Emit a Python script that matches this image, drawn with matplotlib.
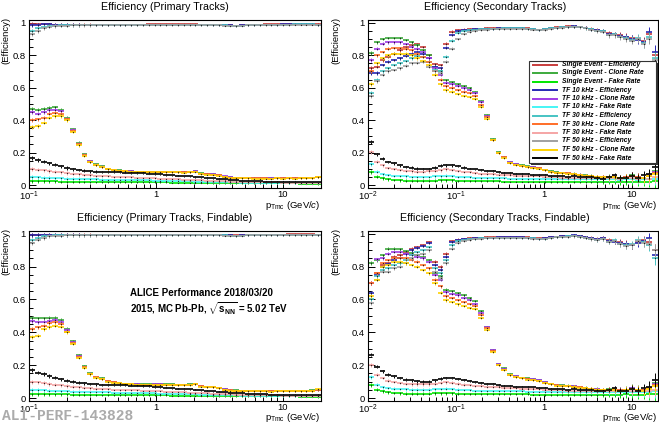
import numpy as np
import matplotlib
matplotlib.use("Agg")
import matplotlib.pyplot as plt
from matplotlib.patches import Rectangle
from matplotlib.lines import Line2D
from matplotlib.ticker import FixedLocator, FixedFormatter, MultipleLocator, LogLocator, NullFormatter

plt.rcParams['font.family'] = ['Liberation Sans', 'DejaVu Sans']
plt.rcParams['mathtext.fontset'] = 'custom'
plt.rcParams['mathtext.rm'] = 'Liberation Sans'
plt.rcParams['mathtext.it'] = 'Liberation Sans:italic'
plt.rcParams['mathtext.bf'] = 'Liberation Sans:bold'

W, H = 659, 424

# ---- legend entries (drawing order) ----
labels = ["Single Event - Efficiency", "Single Event - Clone Rate", "Single Event - Fake Rate",
          "TF 10 kHz - Efficiency", "TF 10 kHz - Clone Rate", "TF 10 kHz - Fake Rate",
          "TF 30 kHz - Efficiency", "TF 30 kHz - Clone Rate", "TF 30 kHz - Fake Rate",
          "TF 50 kHz - Efficiency", "TF 50 kHz - Clone Rate", "TF 50 kHz - Fake Rate"]
colors = ["#c83c3c", "#3caa3c", "#00e600",
          "#2828b4", "#a03ce6", "#46f5f5",
          "#46c3c3", "#ff6e28", "#f5a5a5",
          "#a0a0a0", "#ffd200", "#000000"]

# ---- binning (log bins, 50 per histogram) ----
prim_edges = np.logspace(-1, np.log10(20), 51)
sec_edges = np.logspace(-2, np.log10(20), 51)

# ---- primary tracks ----
p_eff_se = [0.99, 0.99, 0.99, 0.99, 0.989, 0.988, 0.988, 0.988, 0.988, 0.988, 0.988, 0.988, 0.988, 0.988, 0.989, 0.989, 0.989, 0.989, 0.989, 0.989, 0.99, 0.99, 0.99, 0.99, 0.99, 0.99, 0.99, 0.99, 0.99, 0.989, 0.989, 0.988, 0.988, 0.987, 0.985, 0.982, 0.985, 0.987, 0.988, 0.989, 0.99, 0.99, 0.99, 0.99, 0.991, 0.991, 0.992, 0.992, 0.992, 0.99]
p_eff_tf10 = [0.985, 0.988, 0.99, 0.99, 0.989, 0.988, 0.988, 0.987, 0.987, 0.987, 0.987, 0.987, 0.987, 0.988, 0.988, 0.988, 0.988, 0.988, 0.988, 0.989, 0.989, 0.989, 0.989, 0.989, 0.989, 0.989, 0.989, 0.989, 0.989, 0.988, 0.988, 0.987, 0.987, 0.986, 0.984, 0.981, 0.984, 0.986, 0.987, 0.988, 0.989, 0.989, 0.989, 0.99, 0.99, 0.99, 0.991, 0.991, 0.991, 0.989]
p_eff_tf30 = [0.95, 0.965, 0.975, 0.98, 0.983, 0.984, 0.985, 0.985, 0.985, 0.985, 0.985, 0.985, 0.986, 0.986, 0.986, 0.986, 0.987, 0.987, 0.987, 0.987, 0.988, 0.988, 0.988, 0.988, 0.988, 0.988, 0.988, 0.988, 0.987, 0.987, 0.986, 0.986, 0.985, 0.984, 0.982, 0.979, 0.982, 0.985, 0.986, 0.987, 0.988, 0.988, 0.988, 0.989, 0.989, 0.99, 0.99, 0.99, 0.99, 0.988]
p_eff_tf50 = [0.93, 0.95, 0.965, 0.975, 0.98, 0.982, 0.983, 0.984, 0.984, 0.984, 0.984, 0.984, 0.985, 0.985, 0.985, 0.985, 0.986, 0.986, 0.986, 0.986, 0.987, 0.987, 0.987, 0.987, 0.987, 0.987, 0.987, 0.987, 0.986, 0.986, 0.985, 0.985, 0.984, 0.983, 0.981, 0.978, 0.981, 0.984, 0.985, 0.986, 0.987, 0.987, 0.987, 0.988, 0.988, 0.989, 0.989, 0.989, 0.989, 0.987]
p_clone_se = [0.47, 0.465, 0.47, 0.475, 0.478, 0.465, 0.415, 0.345, 0.26, 0.19, 0.148, 0.127, 0.115, 0.102, 0.095, 0.09, 0.087, 0.085, 0.083, 0.082, 0.082, 0.083, 0.083, 0.082, 0.082, 0.081, 0.08, 0.082, 0.085, 0.072, 0.067, 0.066, 0.062, 0.052, 0.048, 0.046, 0.044, 0.043, 0.043, 0.042, 0.043, 0.042, 0.043, 0.042, 0.044, 0.043, 0.044, 0.045, 0.046, 0.052]
p_clone_tf10 = [0.45, 0.44, 0.45, 0.46, 0.465, 0.455, 0.41, 0.34, 0.255, 0.188, 0.146, 0.126, 0.114, 0.1, 0.094, 0.089, 0.086, 0.084, 0.082, 0.081, 0.081, 0.082, 0.082, 0.081, 0.081, 0.08, 0.079, 0.081, 0.084, 0.071, 0.068, 0.067, 0.063, 0.053, 0.047, 0.045, 0.043, 0.043, 0.042, 0.042, 0.042, 0.041, 0.043, 0.042, 0.043, 0.042, 0.043, 0.044, 0.045, 0.05]
p_clone_tf30 = [0.40, 0.405, 0.415, 0.44, 0.445, 0.44, 0.405, 0.335, 0.25, 0.185, 0.144, 0.125, 0.113, 0.099, 0.093, 0.088, 0.085, 0.083, 0.081, 0.08, 0.08, 0.081, 0.081, 0.08, 0.08, 0.079, 0.078, 0.08, 0.083, 0.07, 0.066, 0.065, 0.06, 0.051, 0.046, 0.044, 0.042, 0.042, 0.041, 0.041, 0.041, 0.04, 0.042, 0.041, 0.042, 0.041, 0.042, 0.043, 0.044, 0.05]
p_clone_tf50 = [0.36, 0.365, 0.385, 0.415, 0.425, 0.425, 0.398, 0.33, 0.245, 0.182, 0.142, 0.123, 0.111, 0.098, 0.092, 0.087, 0.084, 0.082, 0.08, 0.079, 0.079, 0.08, 0.08, 0.079, 0.079, 0.078, 0.077, 0.079, 0.082, 0.069, 0.065, 0.064, 0.059, 0.05, 0.045, 0.043, 0.041, 0.041, 0.04, 0.04, 0.04, 0.039, 0.041, 0.04, 0.041, 0.04, 0.041, 0.042, 0.043, 0.052]
p_fake_se = [0.025, 0.024, 0.024, 0.023, 0.023, 0.022, 0.022, 0.021, 0.021, 0.02, 0.02, 0.02, 0.019, 0.019, 0.019, 0.018, 0.018, 0.018, 0.017, 0.017, 0.017, 0.016, 0.016, 0.016, 0.015, 0.015, 0.015, 0.014, 0.014, 0.014, 0.013, 0.013, 0.013, 0.012, 0.012, 0.012, 0.011, 0.011, 0.011, 0.011, 0.01, 0.01, 0.01, 0.01, 0.01, 0.01, 0.009, 0.009, 0.009, 0.009]
p_fake_tf10 = [0.05, 0.048, 0.046, 0.044, 0.042, 0.041, 0.04, 0.039, 0.038, 0.037, 0.036, 0.035, 0.034, 0.034, 0.033, 0.032, 0.032, 0.031, 0.03, 0.03, 0.029, 0.028, 0.027, 0.027, 0.026, 0.025, 0.024, 0.023, 0.022, 0.021, 0.02, 0.019, 0.018, 0.017, 0.016, 0.016, 0.015, 0.014, 0.014, 0.013, 0.013, 0.013, 0.012, 0.012, 0.012, 0.012, 0.011, 0.011, 0.011, 0.011]
p_fake_tf30 = [0.10, 0.095, 0.09, 0.086, 0.082, 0.078, 0.074, 0.07, 0.066, 0.063, 0.06, 0.058, 0.056, 0.054, 0.052, 0.05, 0.049, 0.047, 0.046, 0.045, 0.043, 0.042, 0.04, 0.038, 0.037, 0.035, 0.034, 0.032, 0.031, 0.029, 0.028, 0.026, 0.025, 0.024, 0.022, 0.021, 0.02, 0.019, 0.018, 0.017, 0.017, 0.016, 0.016, 0.015, 0.015, 0.015, 0.014, 0.014, 0.014, 0.014]
p_fake_tf50 = [0.168, 0.155, 0.145, 0.135, 0.125, 0.115, 0.105, 0.098, 0.093, 0.089, 0.085, 0.083, 0.081, 0.08, 0.079, 0.078, 0.077, 0.076, 0.075, 0.073, 0.071, 0.068, 0.066, 0.063, 0.06, 0.058, 0.055, 0.053, 0.05, 0.047, 0.044, 0.041, 0.038, 0.035, 0.032, 0.03, 0.028, 0.026, 0.024, 0.023, 0.022, 0.021, 0.02, 0.019, 0.018, 0.018, 0.017, 0.017, 0.016, 0.016]
prim_err = [0.012, 0.011, 0.011, 0.01, 0.01, 0.01, 0.01, 0.009, 0.009, 0.008, 0.008, 0.007, 0.007, 0.006, 0.006, 0.005, 0.005, 0.005, 0.004, 0.004, 0.004, 0.004, 0.004, 0.004, 0.004, 0.004, 0.004, 0.004, 0.004, 0.004, 0.004, 0.004, 0.004, 0.004, 0.004, 0.004, 0.004, 0.004, 0.004, 0.004, 0.004, 0.004, 0.005, 0.005, 0.005, 0.005, 0.005, 0.005, 0.005, 0.006]

# ---- primary tracks, findable ----
fp_eff_se = [0.995, 0.995, 0.995, 0.995, 0.995, 0.994, 0.994, 0.994, 0.994, 0.994, 0.994, 0.994, 0.994, 0.994, 0.994, 0.994, 0.995, 0.995, 0.995, 0.995, 0.995, 0.995, 0.995, 0.995, 0.995, 0.995, 0.995, 0.995, 0.995, 0.995, 0.994, 0.994, 0.994, 0.993, 0.992, 0.99, 0.992, 0.993, 0.994, 0.994, 0.995, 0.995, 0.995, 0.995, 0.996, 0.996, 0.996, 0.996, 0.996, 0.995]
fp_eff_tf10 = [0.99, 0.993, 0.994, 0.994, 0.994, 0.993, 0.993, 0.993, 0.993, 0.993, 0.993, 0.993, 0.993, 0.993, 0.993, 0.993, 0.994, 0.994, 0.994, 0.994, 0.994, 0.994, 0.994, 0.994, 0.994, 0.994, 0.994, 0.994, 0.994, 0.994, 0.993, 0.993, 0.993, 0.992, 0.991, 0.989, 0.991, 0.992, 0.993, 0.993, 0.994, 0.994, 0.994, 0.994, 0.995, 0.995, 0.995, 0.995, 0.995, 0.994]
fp_eff_tf30 = [0.965, 0.975, 0.985, 0.988, 0.99, 0.991, 0.991, 0.991, 0.991, 0.991, 0.991, 0.991, 0.992, 0.992, 0.992, 0.992, 0.992, 0.992, 0.993, 0.993, 0.993, 0.993, 0.993, 0.993, 0.993, 0.993, 0.993, 0.993, 0.993, 0.992, 0.992, 0.992, 0.991, 0.99, 0.989, 0.987, 0.989, 0.991, 0.992, 0.992, 0.993, 0.993, 0.993, 0.993, 0.994, 0.994, 0.994, 0.994, 0.994, 0.993]
fp_eff_tf50 = [0.945, 0.965, 0.975, 0.985, 0.988, 0.989, 0.99, 0.99, 0.99, 0.99, 0.99, 0.99, 0.991, 0.991, 0.991, 0.991, 0.991, 0.991, 0.992, 0.992, 0.992, 0.992, 0.992, 0.992, 0.992, 0.992, 0.992, 0.992, 0.992, 0.991, 0.991, 0.991, 0.99, 0.989, 0.988, 0.986, 0.988, 0.99, 0.991, 0.991, 0.992, 0.992, 0.992, 0.992, 0.993, 0.993, 0.993, 0.993, 0.993, 0.992]
fp_clone_se = [0.49, 0.485, 0.485, 0.49, 0.49, 0.475, 0.42, 0.345, 0.26, 0.195, 0.15, 0.13, 0.12, 0.105, 0.097, 0.092, 0.088, 0.086, 0.084, 0.083, 0.083, 0.084, 0.084, 0.083, 0.083, 0.082, 0.081, 0.083, 0.086, 0.073, 0.068, 0.067, 0.062, 0.053, 0.048, 0.046, 0.045, 0.044, 0.043, 0.043, 0.043, 0.042, 0.043, 0.042, 0.044, 0.043, 0.044, 0.045, 0.046, 0.052]
fp_clone_tf10 = [0.47, 0.46, 0.465, 0.47, 0.475, 0.465, 0.415, 0.34, 0.255, 0.19, 0.148, 0.128, 0.118, 0.103, 0.096, 0.091, 0.087, 0.085, 0.083, 0.082, 0.082, 0.083, 0.083, 0.082, 0.082, 0.081, 0.08, 0.082, 0.085, 0.072, 0.069, 0.068, 0.063, 0.054, 0.047, 0.045, 0.044, 0.043, 0.042, 0.042, 0.042, 0.041, 0.043, 0.042, 0.043, 0.042, 0.043, 0.044, 0.045, 0.05]
fp_clone_tf30 = [0.42, 0.43, 0.44, 0.455, 0.46, 0.45, 0.405, 0.335, 0.25, 0.19, 0.146, 0.127, 0.116, 0.101, 0.095, 0.09, 0.086, 0.084, 0.082, 0.081, 0.081, 0.082, 0.082, 0.081, 0.081, 0.08, 0.079, 0.081, 0.084, 0.071, 0.067, 0.066, 0.061, 0.052, 0.046, 0.044, 0.043, 0.042, 0.041, 0.041, 0.041, 0.04, 0.042, 0.041, 0.042, 0.041, 0.042, 0.043, 0.044, 0.05]
fp_clone_tf50 = [0.37, 0.38, 0.42, 0.43, 0.44, 0.435, 0.4, 0.33, 0.245, 0.185, 0.144, 0.125, 0.114, 0.1, 0.094, 0.089, 0.085, 0.083, 0.081, 0.08, 0.08, 0.081, 0.081, 0.08, 0.08, 0.079, 0.078, 0.08, 0.083, 0.07, 0.066, 0.065, 0.06, 0.051, 0.045, 0.043, 0.042, 0.041, 0.04, 0.04, 0.04, 0.039, 0.041, 0.04, 0.041, 0.04, 0.041, 0.042, 0.043, 0.053]

# ---- secondary tracks ----
s_eff_se = [0.72, 0.73, 0.77, 0.79, 0.81, 0.83, 0.85, 0.86, 0.87, 0.85, 0.80, 0.745, 0.74, 0.87, 0.945, 0.955, 0.958, 0.96, 0.962, 0.964, 0.965, 0.966, 0.967, 0.967, 0.968, 0.968, 0.967, 0.965, 0.962, 0.958, 0.962, 0.968, 0.972, 0.975, 0.977, 0.978, 0.975, 0.97, 0.962, 0.955, 0.952, 0.935, 0.93, 0.925, 0.915, 0.905, 0.9, 0.885, 0.93, 0.80]
s_eff_tf10 = [0.69, 0.69, 0.74, 0.76, 0.77, 0.78, 0.795, 0.81, 0.82, 0.81, 0.78, 0.73, 0.72, 0.847, 0.925, 0.948, 0.955, 0.958, 0.96, 0.962, 0.963, 0.964, 0.965, 0.966, 0.966, 0.967, 0.966, 0.964, 0.961, 0.957, 0.96, 0.966, 0.97, 0.973, 0.975, 0.977, 0.974, 0.968, 0.96, 0.953, 0.95, 0.932, 0.928, 0.92, 0.91, 0.9, 0.895, 0.88, 0.94, 0.82]
s_eff_tf30 = [0.57, 0.65, 0.70, 0.72, 0.74, 0.75, 0.765, 0.78, 0.795, 0.79, 0.76, 0.71, 0.70, 0.79, 0.89, 0.935, 0.948, 0.955, 0.958, 0.96, 0.962, 0.963, 0.964, 0.965, 0.965, 0.966, 0.965, 0.963, 0.96, 0.956, 0.959, 0.965, 0.969, 0.972, 0.974, 0.976, 0.973, 0.967, 0.959, 0.952, 0.948, 0.925, 0.93, 0.915, 0.905, 0.895, 0.905, 0.875, 0.91, 0.78]
s_eff_tf50 = [0.55, 0.64, 0.68, 0.70, 0.71, 0.72, 0.735, 0.75, 0.755, 0.76, 0.73, 0.70, 0.69, 0.76, 0.84, 0.90, 0.93, 0.945, 0.952, 0.956, 0.958, 0.96, 0.962, 0.963, 0.963, 0.964, 0.963, 0.961, 0.958, 0.954, 0.957, 0.963, 0.967, 0.97, 0.972, 0.974, 0.971, 0.965, 0.957, 0.95, 0.946, 0.922, 0.925, 0.912, 0.9, 0.89, 0.9, 0.87, 0.9, 0.77]
s_clone_se = [0.815, 0.88, 0.90, 0.905, 0.905, 0.905, 0.895, 0.88, 0.86, 0.83, 0.80, 0.73, 0.70, 0.645, 0.635, 0.62, 0.61, 0.60, 0.575, 0.52, 0.43, 0.285, 0.205, 0.175, 0.142, 0.13, 0.122, 0.115, 0.112, 0.108, 0.095, 0.085, 0.078, 0.075, 0.074, 0.07, 0.065, 0.06, 0.056, 0.052, 0.05, 0.052, 0.055, 0.046, 0.05, 0.06, 0.05, 0.046, 0.062, 0.085]
s_clone_tf10 = [0.77, 0.84, 0.87, 0.88, 0.88, 0.88, 0.87, 0.85, 0.84, 0.82, 0.78, 0.72, 0.68, 0.63, 0.62, 0.61, 0.595, 0.585, 0.565, 0.51, 0.425, 0.28, 0.2, 0.172, 0.14, 0.128, 0.12, 0.113, 0.11, 0.106, 0.093, 0.083, 0.076, 0.074, 0.073, 0.069, 0.064, 0.059, 0.055, 0.051, 0.049, 0.05, 0.053, 0.045, 0.048, 0.058, 0.048, 0.045, 0.06, 0.08]
s_clone_tf30 = [0.70, 0.80, 0.82, 0.84, 0.845, 0.845, 0.84, 0.83, 0.81, 0.79, 0.76, 0.70, 0.65, 0.61, 0.60, 0.585, 0.575, 0.565, 0.55, 0.495, 0.42, 0.278, 0.198, 0.17, 0.138, 0.126, 0.118, 0.111, 0.108, 0.104, 0.091, 0.082, 0.075, 0.073, 0.072, 0.068, 0.063, 0.058, 0.054, 0.05, 0.048, 0.049, 0.052, 0.044, 0.047, 0.056, 0.047, 0.044, 0.058, 0.075]
s_clone_tf50 = [0.62, 0.75, 0.78, 0.80, 0.81, 0.81, 0.81, 0.80, 0.78, 0.765, 0.74, 0.68, 0.62, 0.585, 0.575, 0.56, 0.55, 0.54, 0.53, 0.48, 0.41, 0.275, 0.196, 0.168, 0.136, 0.124, 0.116, 0.109, 0.106, 0.102, 0.09, 0.081, 0.074, 0.072, 0.071, 0.067, 0.062, 0.057, 0.053, 0.049, 0.047, 0.048, 0.05, 0.043, 0.046, 0.055, 0.046, 0.043, 0.056, 0.07]
s_fake_se = [0.082, 0.051, 0.041, 0.035, 0.031, 0.029, 0.027, 0.027, 0.027, 0.027, 0.027, 0.028, 0.029, 0.029, 0.029, 0.027, 0.026, 0.025, 0.025, 0.024, 0.024, 0.023, 0.023, 0.022, 0.022, 0.022, 0.022, 0.022, 0.021, 0.021, 0.021, 0.021, 0.021, 0.021, 0.021, 0.02, 0.02, 0.02, 0.02, 0.02, 0.02, 0.02, 0.021, 0.02, 0.022, 0.02, 0.021, 0.02, 0.022, 0.025]
s_fake_tf10 = [0.128, 0.082, 0.067, 0.061, 0.057, 0.055, 0.053, 0.051, 0.051, 0.051, 0.051, 0.053, 0.055, 0.057, 0.056, 0.052, 0.05, 0.047, 0.045, 0.044, 0.043, 0.042, 0.041, 0.041, 0.04, 0.04, 0.04, 0.039, 0.039, 0.039, 0.039, 0.038, 0.038, 0.037, 0.037, 0.037, 0.036, 0.036, 0.036, 0.035, 0.035, 0.035, 0.036, 0.034, 0.036, 0.035, 0.034, 0.036, 0.035, 0.04]
s_fake_tf30 = [0.204, 0.143, 0.122, 0.106, 0.098, 0.092, 0.088, 0.084, 0.083, 0.083, 0.084, 0.088, 0.092, 0.096, 0.094, 0.088, 0.082, 0.078, 0.073, 0.071, 0.069, 0.067, 0.065, 0.063, 0.061, 0.059, 0.057, 0.055, 0.054, 0.053, 0.051, 0.049, 0.047, 0.046, 0.045, 0.044, 0.043, 0.043, 0.042, 0.042, 0.041, 0.042, 0.045, 0.04, 0.043, 0.042, 0.04, 0.045, 0.04, 0.05]
s_fake_tf50 = [0.265, 0.19, 0.163, 0.143, 0.133, 0.122, 0.112, 0.108, 0.102, 0.1, 0.1, 0.108, 0.118, 0.122, 0.122, 0.116, 0.108, 0.102, 0.096, 0.092, 0.088, 0.084, 0.08, 0.075, 0.073, 0.07, 0.069, 0.067, 0.065, 0.063, 0.061, 0.058, 0.055, 0.054, 0.05, 0.053, 0.05, 0.047, 0.05, 0.045, 0.04, 0.05, 0.06, 0.045, 0.042, 0.057, 0.045, 0.06, 0.07, 0.11]
sec_err = [0.012, 0.01, 0.009, 0.008, 0.008, 0.008, 0.008, 0.008, 0.008, 0.008, 0.008, 0.009, 0.009, 0.009, 0.008, 0.007, 0.007, 0.006, 0.006, 0.006, 0.006, 0.006, 0.005, 0.005, 0.005, 0.005, 0.005, 0.005, 0.005, 0.005, 0.006, 0.006, 0.006, 0.007, 0.007, 0.008, 0.008, 0.009, 0.01, 0.011, 0.012, 0.014, 0.016, 0.018, 0.02, 0.022, 0.025, 0.028, 0.032, 0.04]

# ---- secondary tracks, findable ----
fs_eff_se = [0.70, 0.76, 0.81, 0.82, 0.86, 0.87, 0.89, 0.91, 0.92, 0.93, 0.95, 0.83, 0.80, 0.88, 0.955, 0.965, 0.97, 0.973, 0.975, 0.977, 0.978, 0.979, 0.98, 0.98, 0.981, 0.981, 0.98, 0.978, 0.976, 0.972, 0.975, 0.98, 0.983, 0.985, 0.987, 0.988, 0.985, 0.98, 0.974, 0.968, 0.975, 0.96, 0.955, 0.95, 0.94, 0.93, 0.95, 0.96, 0.95, 0.9]
fs_eff_tf10 = [0.64, 0.75, 0.80, 0.815, 0.84, 0.855, 0.875, 0.9, 0.915, 0.925, 0.945, 0.81, 0.78, 0.86, 0.95, 0.962, 0.968, 0.971, 0.973, 0.975, 0.976, 0.977, 0.978, 0.978, 0.979, 0.979, 0.978, 0.976, 0.974, 0.97, 0.973, 0.978, 0.982, 0.984, 0.986, 0.99, 0.984, 0.979, 0.972, 0.966, 0.972, 0.955, 0.953, 0.945, 0.935, 0.93, 0.945, 0.955, 0.975, 0.87]
fs_eff_tf30 = [0.60, 0.74, 0.78, 0.79, 0.81, 0.82, 0.84, 0.87, 0.89, 0.90, 0.92, 0.79, 0.76, 0.84, 0.93, 0.955, 0.963, 0.967, 0.97, 0.972, 0.974, 0.975, 0.976, 0.976, 0.977, 0.977, 0.976, 0.974, 0.972, 0.968, 0.971, 0.976, 0.98, 0.982, 0.984, 0.986, 0.982, 0.977, 0.97, 0.964, 0.97, 0.952, 0.96, 0.94, 0.93, 0.935, 0.96, 0.95, 0.93, 0.85]
fs_eff_tf50 = [0.58, 0.72, 0.77, 0.77, 0.79, 0.80, 0.82, 0.85, 0.87, 0.88, 0.90, 0.77, 0.73, 0.82, 0.91, 0.945, 0.958, 0.963, 0.967, 0.97, 0.972, 0.973, 0.974, 0.974, 0.975, 0.975, 0.974, 0.972, 0.97, 0.966, 0.969, 0.974, 0.978, 0.98, 0.982, 0.984, 0.98, 0.975, 0.968, 0.962, 0.968, 0.95, 0.955, 0.938, 0.925, 0.93, 0.955, 0.945, 0.94, 0.9]
fs_clone_se = [0.82, 0.84, 0.87, 0.91, 0.91, 0.905, 0.895, 0.885, 0.87, 0.86, 0.84, 0.76, 0.74, 0.66, 0.65, 0.64, 0.625, 0.61, 0.59, 0.53, 0.435, 0.295, 0.21, 0.18, 0.145, 0.135, 0.125, 0.12, 0.115, 0.11, 0.097, 0.087, 0.08, 0.077, 0.076, 0.072, 0.067, 0.062, 0.058, 0.054, 0.052, 0.054, 0.057, 0.048, 0.052, 0.062, 0.052, 0.048, 0.064, 0.09]
fs_clone_tf10 = [0.70, 0.845, 0.85, 0.88, 0.89, 0.89, 0.88, 0.87, 0.86, 0.85, 0.83, 0.75, 0.72, 0.645, 0.635, 0.625, 0.61, 0.595, 0.575, 0.52, 0.43, 0.29, 0.205, 0.176, 0.143, 0.132, 0.123, 0.117, 0.113, 0.108, 0.095, 0.085, 0.078, 0.076, 0.075, 0.071, 0.066, 0.061, 0.057, 0.053, 0.051, 0.052, 0.055, 0.047, 0.05, 0.06, 0.05, 0.047, 0.062, 0.085]
fs_clone_tf30 = [0.70, 0.76, 0.82, 0.84, 0.85, 0.855, 0.85, 0.84, 0.83, 0.81, 0.79, 0.72, 0.68, 0.62, 0.61, 0.595, 0.585, 0.575, 0.56, 0.505, 0.425, 0.285, 0.202, 0.173, 0.14, 0.13, 0.121, 0.114, 0.111, 0.106, 0.093, 0.084, 0.077, 0.075, 0.074, 0.07, 0.065, 0.06, 0.056, 0.052, 0.05, 0.051, 0.054, 0.046, 0.049, 0.058, 0.049, 0.046, 0.06, 0.08]
fs_clone_tf50 = [0.62, 0.72, 0.80, 0.81, 0.83, 0.83, 0.82, 0.81, 0.80, 0.78, 0.76, 0.70, 0.64, 0.595, 0.585, 0.57, 0.56, 0.55, 0.54, 0.49, 0.415, 0.28, 0.2, 0.17, 0.138, 0.127, 0.119, 0.112, 0.109, 0.104, 0.092, 0.083, 0.076, 0.074, 0.073, 0.069, 0.064, 0.059, 0.055, 0.051, 0.049, 0.05, 0.052, 0.045, 0.048, 0.057, 0.048, 0.045, 0.058, 0.075]

panels = [
    dict(title="Efficiency (Primary Tracks)", edges=prim_edges, err=prim_err,
         series=[p_eff_se, p_clone_se, p_fake_se, p_eff_tf10, p_clone_tf10, p_fake_tf10,
                 p_eff_tf30, p_clone_tf30, p_fake_tf30, p_eff_tf50, p_clone_tf50, p_fake_tf50]),
    dict(title="Efficiency (Secondary Tracks)", edges=sec_edges, err=sec_err,
         series=[s_eff_se, s_clone_se, s_fake_se, s_eff_tf10, s_clone_tf10, s_fake_tf10,
                 s_eff_tf30, s_clone_tf30, s_fake_tf30, s_eff_tf50, s_clone_tf50, s_fake_tf50]),
    dict(title="Efficiency (Primary Tracks, Findable)", edges=prim_edges, err=prim_err,
         series=[fp_eff_se, fp_clone_se, p_fake_se, fp_eff_tf10, fp_clone_tf10, p_fake_tf10,
                 fp_eff_tf30, fp_clone_tf30, p_fake_tf30, fp_eff_tf50, fp_clone_tf50, p_fake_tf50]),
    dict(title="Efficiency (Secondary Tracks, Findable)", edges=sec_edges, err=sec_err,
         series=[fs_eff_se, fs_clone_se, s_fake_se, fs_eff_tf10, fs_clone_tf10, s_fake_tf10,
                 fs_eff_tf30, fs_clone_tf30, s_fake_tf30, fs_eff_tf50, fs_clone_tf50, s_fake_tf50]),
]

# pixel boxes of the four frames (left, top, right, bottom)
boxes = [(29, 20, 321, 188), (368, 20, 658, 188), (29, 231, 321, 401), (368, 231, 658, 401)]
pads = [(0, 0), (330, 0), (0, 211), (330, 211)]

fig = plt.figure(figsize=(W / 100, H / 100), dpi=100)

for k, (pan, box, pad) in enumerate(zip(panels, boxes, pads)):
    l, t, r, b = box
    ax = fig.add_axes([l / W, 1 - b / H, (r - l) / W, (b - t) / H])
    edges = pan["edges"]
    lo, hi = edges[:-1], edges[1:]
    xc = np.sqrt(lo * hi)
    err = np.array(pan["err"])
    for vals, col in zip(pan["series"], colors):
        y = np.array(vals)
        ax.hlines(y, lo, hi, colors=col, lw=1.2)
        ax.vlines(xc, y - err, y + err, colors=col, lw=0.7)
        ax.plot(xc, y, ls="none", marker="o", ms=0.9, mew=0, color="#222222")
    ax.set_xscale("log")
    ax.set_xlim(edges[0], edges[-1])
    ax.set_ylim(-0.018, 1.017)
    if edges[0] < 0.05:
        ax.xaxis.set_major_locator(FixedLocator([0.01, 0.1, 1, 10]))
        ax.xaxis.set_major_formatter(FixedFormatter([r"$10^{-2}$", r"$10^{-1}$", "1", "10"]))
    else:
        ax.xaxis.set_major_locator(FixedLocator([0.1, 1, 10]))
        ax.xaxis.set_major_formatter(FixedFormatter([r"$10^{-1}$", "1", "10"]))
    ax.xaxis.set_minor_locator(LogLocator(base=10, subs=np.arange(2, 10), numticks=20))
    ax.xaxis.set_minor_formatter(NullFormatter())
    ax.yaxis.set_major_locator(FixedLocator([0, 0.2, 0.4, 0.6, 0.8, 1.0]))
    ax.yaxis.set_major_formatter(FixedFormatter(["0", "0.2", "0.4", "0.6", "0.8", "1"]))
    ax.yaxis.set_minor_locator(MultipleLocator(0.05))
    ax.tick_params(which="both", direction="in", top=False, right=False, width=0.7,
                   labelsize=6.8, pad=2.5)
    ax.tick_params(axis="x", pad=1.5)
    ax.tick_params(which="major", length=5)
    ax.tick_params(which="minor", length=2.8)
    for s in ax.spines.values():
        s.set_linewidth(0.8)

    px0, py0 = pad
    fig.text((px0 + 165) / W, 1 - (py0 + 7) / H, pan["title"], ha="center", va="center", fontsize=7.7)
    fig.text((px0 + 6) / W, 1 - (py0 + 17) / H, "(Efficiency)", rotation=90, ha="center", va="top",
             fontsize=6.8)
    xl_y = py0 + 205.5 if py0 == 0 else py0 + 207
    fig.text((r - 1) / W, 1 - xl_y / H, r"$\mathrm{p}_{\mathrm{Tmc}}$ (GeV/$c$)", ha="right",
             va="center", fontsize=6.8)

# legend (top-right panel)
lx0, ly0, lx1, ly1 = 529, 61, 656, 163
fig.add_artist(Rectangle((lx0 / W + 0.003, 1 - (ly1 + 2) / H), (lx1 - lx0) / W, (ly1 - ly0) / H,
                         transform=fig.transFigure, facecolor="#303030", edgecolor="none", zorder=5))
fig.add_artist(Rectangle((lx0 / W, 1 - ly1 / H), (lx1 - lx0) / W, (ly1 - ly0) / H,
                         transform=fig.transFigure, facecolor="white", edgecolor="#333333", lw=0.8, zorder=6))
for i, (lab, col) in enumerate(zip(labels, colors)):
    yy = 1 - (64.5 + i * 8.5) / H
    fig.add_artist(Line2D([533 / W, 557 / W], [yy, yy], transform=fig.transFigure, color=col, lw=1.4, zorder=7))
    fig.text(562 / W, yy, lab, ha="left", va="center", fontsize=4.9, fontweight="bold", style="italic",
             zorder=8)

# performance label
fig.text(130 / W, 1 - 292.5 / H, "ALICE Performance 2018/03/20", ha="left", va="center",
         fontsize=7.0, fontweight="bold")
fig.text(130 / W, 1 - 309 / H, r"2015, MC Pb-Pb, $\sqrt{\mathbf{s}_{\mathbf{NN}}}$ = 5.02 TeV", ha="left",
         va="center", fontsize=7.0, fontweight="bold")
fig.text(2 / W, 1 - 416 / H, "ALI-PERF-143828", ha="left", va="center", fontsize=10.5,
         family="Liberation Mono", fontweight="bold", color="#ababab")

fig.savefig("out.png", dpi=100)
